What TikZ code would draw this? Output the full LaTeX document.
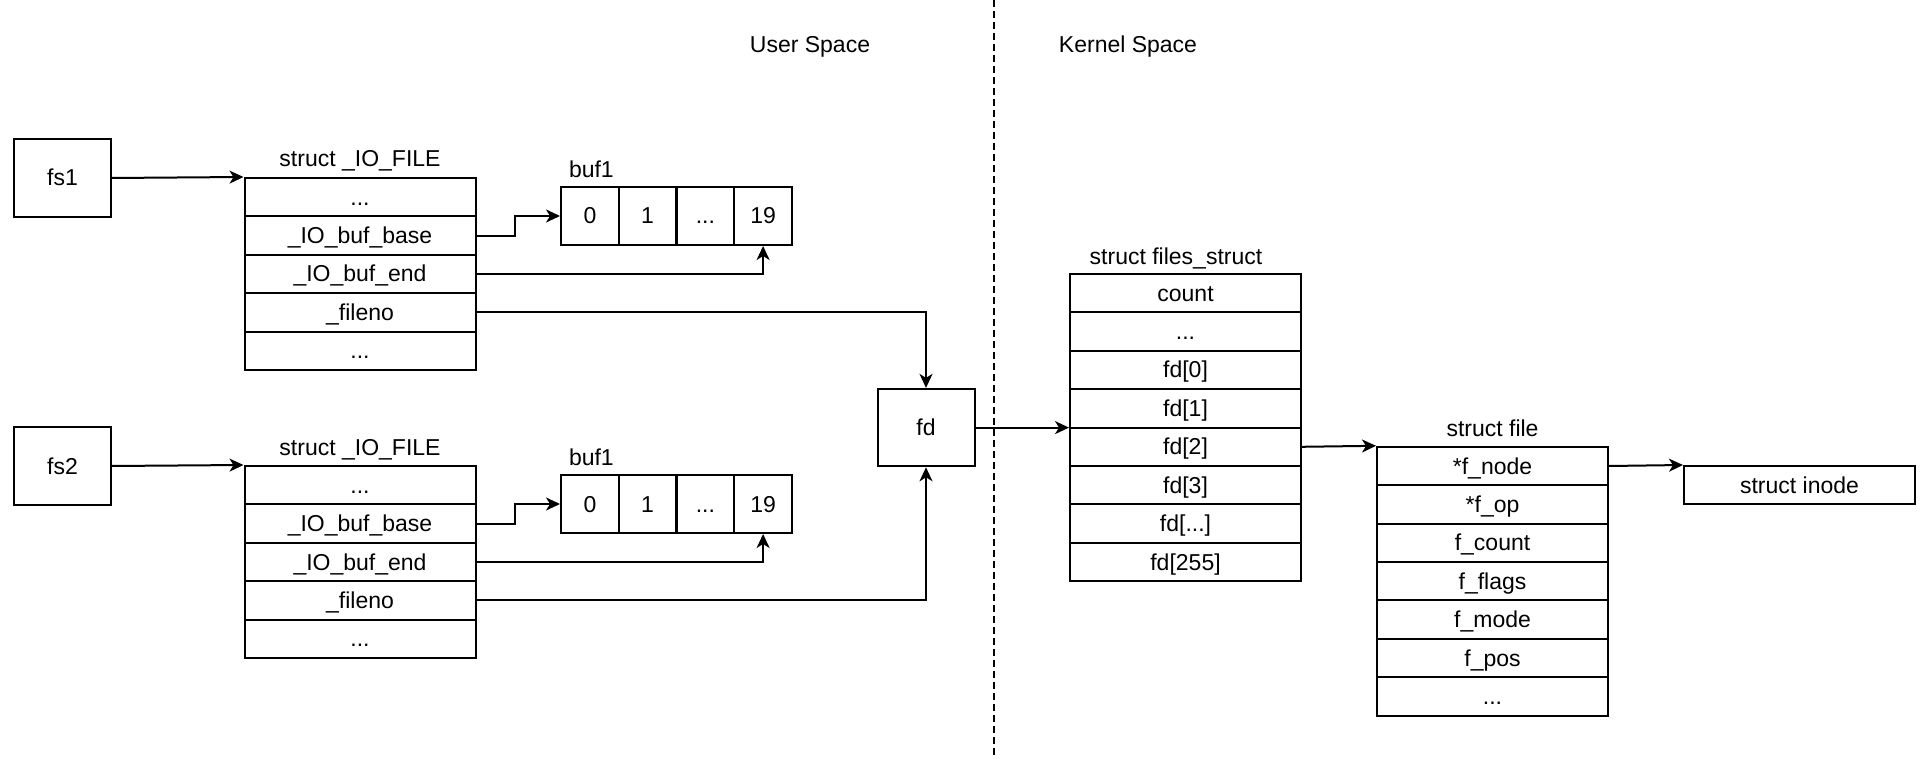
\documentclass[tikz,border=0pt]{standalone}
\usepackage{fontspec}
\setmainfont{Liberation Sans}
\usetikzlibrary{arrows.meta}
\begin{document}
\begin{tikzpicture}[x=0.5pt,y=-0.5pt,line width=1pt,
  every node/.style={font=\fontsize{11.5}{13}\selectfont,inner sep=0pt,
    text height=8.5pt,text depth=0.5pt},
  row/.style={draw,minimum width=115.5pt,minimum height=19.2pt},
  bufcell/.style={draw,minimum width=28.875pt,minimum height=29pt},
  ptrbox/.style={draw,minimum width=48.5pt,minimum height=38.7pt},
  link/.style={-{Stealth[length=7pt,width=6.5pt,inset=2pt]}}]
\useasboundingbox (0,0) rectangle (1930,758);

% user / kernel boundary
\draw[dashed,dash pattern=on 3.5pt off 2pt] (993.5,0) -- (993.5,758);
\node (us) at (810,45) {User Space};
\node (ks) at (1128,45) {Kernel Space};

% FILE pointers
\node[ptrbox] (fs1) at (62.5,178) {fs1};
\node[ptrbox] (fs2) at (62.5,466) {fs2};

% first struct _IO_FILE
\node (t1) at (360,159) {struct \_IO\_FILE};
\node[row] (a0) at (360,197.2) {...};
\node[row] (a1) at (360,235.6) {\_IO\_buf\_base};
\node[row] (a2) at (360,274.0) {\_IO\_buf\_end};
\node[row] (a3) at (360,312.4) {\_fileno};
\node[row] (a4) at (360,350.8) {...};

% second struct _IO_FILE
\node (t2) at (360,447) {struct \_IO\_FILE};
\node[row] (c0) at (360,485.2) {...};
\node[row] (c1) at (360,523.6) {\_IO\_buf\_base};
\node[row] (c2) at (360,562.0) {\_IO\_buf\_end};
\node[row] (c3) at (360,600.4) {\_fileno};
\node[row] (c4) at (360,638.8) {...};

% buffers
\node[anchor=west] (bl1) at (568,169.5) {buf1};
\node[bufcell] (b0) at (589.9,216) {0};
\node[bufcell] (b1) at (647.6,216) {1};
\node[bufcell] (b2) at (705.4,216) {...};
\node[bufcell] (b3) at (763.1,216) {19};

\node[anchor=west] (bl2) at (568,457.5) {buf1};
\node[bufcell] (d0) at (589.9,504) {0};
\node[bufcell] (d1) at (647.6,504) {1};
\node[bufcell] (d2) at (705.4,504) {...};
\node[bufcell] (d3) at (763.1,504) {19};

% descriptor
\node[ptrbox] (fd) at (926,427.6) {fd};

% struct files_struct
\node (tk) at (1176,257) {struct files\_struct};
\node[row] (k0) at (1185.5,293.2) {count};
\node[row] (k1) at (1185.5,331.6) {...};
\node[row] (k2) at (1185.5,370.0) {fd[0]};
\node[row] (k3) at (1185.5,408.4) {fd[1]};
\node[row] (k4) at (1185.5,446.8) {fd[2]};
\node[row] (k5) at (1185.5,485.2) {fd[3]};
\node[row] (k6) at (1185.5,523.6) {fd[...]};
\node[row] (k7) at (1185.5,562.0) {fd[255]};

% struct file
\node (tf) at (1492.5,428.5) {struct file};
\node[row] (f0) at (1492.5,466.0) {*f\_node};
\node[row] (f1) at (1492.5,504.4) {*f\_op};
\node[row] (f2) at (1492.5,542.8) {f\_count};
\node[row] (f3) at (1492.5,581.2) {f\_flags};
\node[row] (f4) at (1492.5,619.6) {f\_mode};
\node[row] (f5) at (1492.5,658.0) {f\_pos};
\node[row] (f6) at (1492.5,696.4) {...};

% struct inode
\node[row] (in) at (1799.5,485.2) {struct inode};

% pointers
\draw[link] (fs1.east) -- (a0.north west);
\draw[link] (fs2.east) -- (c0.north west);
\draw[link] (a1.east) -- ++(38,0) |- (b0.west);
\draw[link] (c1.east) -- ++(38,0) |- (d0.west);
\draw[link] (a2.east) -| (b3.south);
\draw[link] (c2.east) -| (d3.south);
\draw[link] (a3.east) -| (fd.north);
\draw[link] (c3.east) -| (fd.south);
\draw[link] (fd.east) -- (fd.east -| k4.west);
\draw[link] (k4.east) -- (f0.north west);
\draw[link] (f0.east) -- (in.north west);
\end{tikzpicture}
\end{document}
